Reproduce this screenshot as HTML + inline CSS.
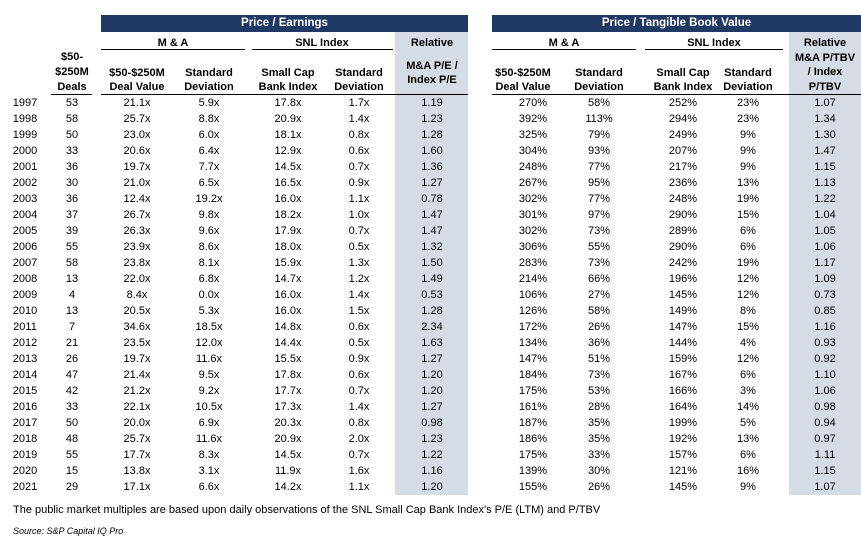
<!DOCTYPE html>
<html><head><meta charset="utf-8"><style>
body{margin:0;width:861px;height:542px;background:#fff;font-family:"Liberation Sans",Arial,sans-serif;color:#000;position:relative;overflow:hidden}
.a{position:absolute}
.bar{background:#1f3864;color:#fff;font-weight:bold;font-size:11.5px;text-align:center;line-height:17px;height:17px;top:15px}
.gray{background:#d6dce5}
.h{position:absolute;font-weight:bold;font-size:11px;text-align:center;line-height:14px;width:90px;margin-left:-45px}
.ln{position:absolute;height:1.3px;background:#000}
.r{position:absolute;left:0;width:861px;height:16px;font-size:11px;line-height:16px}
.r span{position:absolute;width:70px;margin-left:-35px;text-align:center}
</style></head><body>
<div class="a gray" style="left:395px;top:32px;width:73px;height:463px"></div>
<div class="a gray" style="left:789px;top:32px;width:72px;height:463px"></div>
<div class="a bar" style="left:101px;width:367px">Price / Earnings</div>
<div class="a bar" style="left:492px;width:369px">Price / Tangible Book Value</div>

<div class="h" style="left:173px;top:36px;width:140px;margin-left:-70px">M &amp; A</div>
<div class="h" style="left:322px;top:36px">SNL Index</div>
<div class="h" style="left:432px;top:36px">Relative</div>
<div class="h" style="left:564px;top:36px">M &amp; A</div>
<div class="h" style="left:714px;top:36px">SNL Index</div>
<div class="h" style="left:825px;top:36px">Relative</div>
<div class="ln" style="left:101px;top:49px;width:144px"></div>
<div class="ln" style="left:252px;top:49px;width:141px"></div>
<div class="ln" style="left:492px;top:49px;width:144px"></div>
<div class="ln" style="left:645px;top:49px;width:138px"></div>

<div class="h" style="left:72px;top:50px;line-height:15px">$50-<br>$250M<br>Deals</div>
<div class="h" style="left:137px;top:66px">$50-$250M<br>Deal Value</div>
<div class="h" style="left:209px;top:66px">Standard<br>Deviation</div>
<div class="h" style="left:288px;top:66px">Small Cap<br>Bank Index</div>
<div class="h" style="left:359px;top:66px">Standard<br>Deviation</div>
<div class="h" style="left:432px;top:59px">M&amp;A P/E /<br>Index P/E</div>
<div class="h" style="left:523px;top:66px">$50-$250M<br>Deal Value</div>
<div class="h" style="left:599px;top:66px">Standard<br>Deviation</div>
<div class="h" style="left:683px;top:66px">Small Cap<br>Bank Index</div>
<div class="h" style="left:748px;top:66px">Standard<br>Deviation</div>
<div class="h" style="left:825px;top:36px;line-height:14.5px">&nbsp;<br>M&amp;A P/TBV<br>/ Index<br>P/TBV</div>
<div class="ln" style="left:51px;top:94px;width:41px"></div>
<div class="ln" style="left:101px;top:94px;width:367px"></div>
<div class="ln" style="left:492px;top:94px;width:369px"></div>

<div id="rows">
<div class="r" style="top:95px"><span style="left:25px">1997</span><span style="left:72px">53</span><span style="left:137px">21.1x</span><span style="left:209px">5.9x</span><span style="left:288px">17.8x</span><span style="left:359px">1.7x</span><span style="left:432px">1.19</span><span style="left:533px">270%</span><span style="left:599px">58%</span><span style="left:683px">252%</span><span style="left:748px">23%</span><span style="left:825px">1.07</span></div>
<div class="r" style="top:111px"><span style="left:25px">1998</span><span style="left:72px">58</span><span style="left:137px">25.7x</span><span style="left:209px">8.8x</span><span style="left:288px">20.9x</span><span style="left:359px">1.4x</span><span style="left:432px">1.23</span><span style="left:533px">392%</span><span style="left:599px">113%</span><span style="left:683px">294%</span><span style="left:748px">23%</span><span style="left:825px">1.34</span></div>
<div class="r" style="top:127px"><span style="left:25px">1999</span><span style="left:72px">50</span><span style="left:137px">23.0x</span><span style="left:209px">6.0x</span><span style="left:288px">18.1x</span><span style="left:359px">0.8x</span><span style="left:432px">1.28</span><span style="left:533px">325%</span><span style="left:599px">79%</span><span style="left:683px">249%</span><span style="left:748px">9%</span><span style="left:825px">1.30</span></div>
<div class="r" style="top:143px"><span style="left:25px">2000</span><span style="left:72px">33</span><span style="left:137px">20.6x</span><span style="left:209px">6.4x</span><span style="left:288px">12.9x</span><span style="left:359px">0.6x</span><span style="left:432px">1.60</span><span style="left:533px">304%</span><span style="left:599px">93%</span><span style="left:683px">207%</span><span style="left:748px">9%</span><span style="left:825px">1.47</span></div>
<div class="r" style="top:159px"><span style="left:25px">2001</span><span style="left:72px">36</span><span style="left:137px">19.7x</span><span style="left:209px">7.7x</span><span style="left:288px">14.5x</span><span style="left:359px">0.7x</span><span style="left:432px">1.36</span><span style="left:533px">248%</span><span style="left:599px">77%</span><span style="left:683px">217%</span><span style="left:748px">9%</span><span style="left:825px">1.15</span></div>
<div class="r" style="top:175px"><span style="left:25px">2002</span><span style="left:72px">30</span><span style="left:137px">21.0x</span><span style="left:209px">6.5x</span><span style="left:288px">16.5x</span><span style="left:359px">0.9x</span><span style="left:432px">1.27</span><span style="left:533px">267%</span><span style="left:599px">95%</span><span style="left:683px">236%</span><span style="left:748px">13%</span><span style="left:825px">1.13</span></div>
<div class="r" style="top:191px"><span style="left:25px">2003</span><span style="left:72px">36</span><span style="left:137px">12.4x</span><span style="left:209px">19.2x</span><span style="left:288px">16.0x</span><span style="left:359px">1.1x</span><span style="left:432px">0.78</span><span style="left:533px">302%</span><span style="left:599px">77%</span><span style="left:683px">248%</span><span style="left:748px">19%</span><span style="left:825px">1.22</span></div>
<div class="r" style="top:207px"><span style="left:25px">2004</span><span style="left:72px">37</span><span style="left:137px">26.7x</span><span style="left:209px">9.8x</span><span style="left:288px">18.2x</span><span style="left:359px">1.0x</span><span style="left:432px">1.47</span><span style="left:533px">301%</span><span style="left:599px">97%</span><span style="left:683px">290%</span><span style="left:748px">15%</span><span style="left:825px">1.04</span></div>
<div class="r" style="top:223px"><span style="left:25px">2005</span><span style="left:72px">39</span><span style="left:137px">26.3x</span><span style="left:209px">9.6x</span><span style="left:288px">17.9x</span><span style="left:359px">0.7x</span><span style="left:432px">1.47</span><span style="left:533px">302%</span><span style="left:599px">73%</span><span style="left:683px">289%</span><span style="left:748px">6%</span><span style="left:825px">1.05</span></div>
<div class="r" style="top:239px"><span style="left:25px">2006</span><span style="left:72px">55</span><span style="left:137px">23.9x</span><span style="left:209px">8.6x</span><span style="left:288px">18.0x</span><span style="left:359px">0.5x</span><span style="left:432px">1.32</span><span style="left:533px">306%</span><span style="left:599px">55%</span><span style="left:683px">290%</span><span style="left:748px">6%</span><span style="left:825px">1.06</span></div>
<div class="r" style="top:255px"><span style="left:25px">2007</span><span style="left:72px">58</span><span style="left:137px">23.8x</span><span style="left:209px">8.1x</span><span style="left:288px">15.9x</span><span style="left:359px">1.3x</span><span style="left:432px">1.50</span><span style="left:533px">283%</span><span style="left:599px">73%</span><span style="left:683px">242%</span><span style="left:748px">19%</span><span style="left:825px">1.17</span></div>
<div class="r" style="top:271px"><span style="left:25px">2008</span><span style="left:72px">13</span><span style="left:137px">22.0x</span><span style="left:209px">6.8x</span><span style="left:288px">14.7x</span><span style="left:359px">1.2x</span><span style="left:432px">1.49</span><span style="left:533px">214%</span><span style="left:599px">66%</span><span style="left:683px">196%</span><span style="left:748px">12%</span><span style="left:825px">1.09</span></div>
<div class="r" style="top:287px"><span style="left:25px">2009</span><span style="left:72px">4</span><span style="left:137px">8.4x</span><span style="left:209px">0.0x</span><span style="left:288px">16.0x</span><span style="left:359px">1.4x</span><span style="left:432px">0.53</span><span style="left:533px">106%</span><span style="left:599px">27%</span><span style="left:683px">145%</span><span style="left:748px">12%</span><span style="left:825px">0.73</span></div>
<div class="r" style="top:303px"><span style="left:25px">2010</span><span style="left:72px">13</span><span style="left:137px">20.5x</span><span style="left:209px">5.3x</span><span style="left:288px">16.0x</span><span style="left:359px">1.5x</span><span style="left:432px">1.28</span><span style="left:533px">126%</span><span style="left:599px">58%</span><span style="left:683px">149%</span><span style="left:748px">8%</span><span style="left:825px">0.85</span></div>
<div class="r" style="top:319px"><span style="left:25px">2011</span><span style="left:72px">7</span><span style="left:137px">34.6x</span><span style="left:209px">18.5x</span><span style="left:288px">14.8x</span><span style="left:359px">0.6x</span><span style="left:432px">2.34</span><span style="left:533px">172%</span><span style="left:599px">26%</span><span style="left:683px">147%</span><span style="left:748px">15%</span><span style="left:825px">1.16</span></div>
<div class="r" style="top:335px"><span style="left:25px">2012</span><span style="left:72px">21</span><span style="left:137px">23.5x</span><span style="left:209px">12.0x</span><span style="left:288px">14.4x</span><span style="left:359px">0.5x</span><span style="left:432px">1.63</span><span style="left:533px">134%</span><span style="left:599px">36%</span><span style="left:683px">144%</span><span style="left:748px">4%</span><span style="left:825px">0.93</span></div>
<div class="r" style="top:351px"><span style="left:25px">2013</span><span style="left:72px">26</span><span style="left:137px">19.7x</span><span style="left:209px">11.6x</span><span style="left:288px">15.5x</span><span style="left:359px">0.9x</span><span style="left:432px">1.27</span><span style="left:533px">147%</span><span style="left:599px">51%</span><span style="left:683px">159%</span><span style="left:748px">12%</span><span style="left:825px">0.92</span></div>
<div class="r" style="top:367px"><span style="left:25px">2014</span><span style="left:72px">47</span><span style="left:137px">21.4x</span><span style="left:209px">9.5x</span><span style="left:288px">17.8x</span><span style="left:359px">0.6x</span><span style="left:432px">1.20</span><span style="left:533px">184%</span><span style="left:599px">73%</span><span style="left:683px">167%</span><span style="left:748px">6%</span><span style="left:825px">1.10</span></div>
<div class="r" style="top:383px"><span style="left:25px">2015</span><span style="left:72px">42</span><span style="left:137px">21.2x</span><span style="left:209px">9.2x</span><span style="left:288px">17.7x</span><span style="left:359px">0.7x</span><span style="left:432px">1.20</span><span style="left:533px">175%</span><span style="left:599px">53%</span><span style="left:683px">166%</span><span style="left:748px">3%</span><span style="left:825px">1.06</span></div>
<div class="r" style="top:399px"><span style="left:25px">2016</span><span style="left:72px">33</span><span style="left:137px">22.1x</span><span style="left:209px">10.5x</span><span style="left:288px">17.3x</span><span style="left:359px">1.4x</span><span style="left:432px">1.27</span><span style="left:533px">161%</span><span style="left:599px">28%</span><span style="left:683px">164%</span><span style="left:748px">14%</span><span style="left:825px">0.98</span></div>
<div class="r" style="top:415px"><span style="left:25px">2017</span><span style="left:72px">50</span><span style="left:137px">20.0x</span><span style="left:209px">6.9x</span><span style="left:288px">20.3x</span><span style="left:359px">0.8x</span><span style="left:432px">0.98</span><span style="left:533px">187%</span><span style="left:599px">35%</span><span style="left:683px">199%</span><span style="left:748px">5%</span><span style="left:825px">0.94</span></div>
<div class="r" style="top:431px"><span style="left:25px">2018</span><span style="left:72px">48</span><span style="left:137px">25.7x</span><span style="left:209px">11.6x</span><span style="left:288px">20.9x</span><span style="left:359px">2.0x</span><span style="left:432px">1.23</span><span style="left:533px">186%</span><span style="left:599px">35%</span><span style="left:683px">192%</span><span style="left:748px">13%</span><span style="left:825px">0.97</span></div>
<div class="r" style="top:447px"><span style="left:25px">2019</span><span style="left:72px">55</span><span style="left:137px">17.7x</span><span style="left:209px">8.3x</span><span style="left:288px">14.5x</span><span style="left:359px">0.7x</span><span style="left:432px">1.22</span><span style="left:533px">175%</span><span style="left:599px">33%</span><span style="left:683px">157%</span><span style="left:748px">6%</span><span style="left:825px">1.11</span></div>
<div class="r" style="top:463px"><span style="left:25px">2020</span><span style="left:72px">15</span><span style="left:137px">13.8x</span><span style="left:209px">3.1x</span><span style="left:288px">11.9x</span><span style="left:359px">1.6x</span><span style="left:432px">1.16</span><span style="left:533px">139%</span><span style="left:599px">30%</span><span style="left:683px">121%</span><span style="left:748px">16%</span><span style="left:825px">1.15</span></div>
<div class="r" style="top:479px"><span style="left:25px">2021</span><span style="left:72px">29</span><span style="left:137px">17.1x</span><span style="left:209px">6.6x</span><span style="left:288px">14.2x</span><span style="left:359px">1.1x</span><span style="left:432px">1.20</span><span style="left:533px">155%</span><span style="left:599px">26%</span><span style="left:683px">145%</span><span style="left:748px">9%</span><span style="left:825px">1.07</span></div>
</div>

<div class="a" style="left:13px;top:504px;font-size:11px;white-space:nowrap">The public market multiples are based upon daily observations of the SNL Small Cap Bank Index's P/E (LTM) and P/TBV</div>
<div class="a" style="left:13px;top:526px;font-size:9px;font-style:italic">Source: S&amp;P Capital IQ Pro</div>
</body></html>
